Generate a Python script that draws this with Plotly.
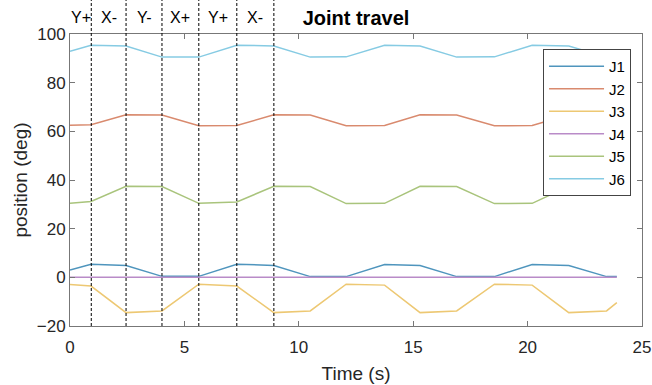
import plotly.graph_objects as go

# ---- data ----
time = [0, 0.92, 2.45, 4.02, 5.63, 7.29, 8.91, 10.5, 12.07, 13.75, 15.3, 16.9, 18.55, 20.2, 21.8, 23.45, 23.9]
J1 = [3.0, 5.4, 4.9, 0.4, 0.4, 5.4, 4.9, 0.3, 0.3, 5.3, 4.9, 0.3, 0.3, 5.3, 4.9, 0.3, 0.3]
J2 = [62.5, 62.7, 66.8, 66.7, 62.3, 62.4, 66.8, 66.7, 62.3, 62.4, 66.8, 66.7, 62.3, 62.4, 66.8, 66.7, 65.3]
J3 = [-2.9, -3.6, -14.5, -13.8, -2.8, -3.6, -14.5, -13.8, -2.8, -3.2, -14.5, -13.8, -2.8, -3.2, -14.5, -13.8, -10.4]
J4 = [0, 0, 0, 0, 0, 0, 0, 0, 0, 0, 0, 0, 0, 0, 0, 0, 0]
J5 = [30.4, 31.2, 37.4, 37.3, 30.4, 31.0, 37.4, 37.3, 30.3, 30.4, 37.4, 37.3, 30.3, 30.4, 37.4, 37.3, 35.1]
J6 = [92.9, 95.4, 95.1, 90.5, 90.5, 95.4, 95.1, 90.5, 90.6, 95.4, 95.1, 90.5, 90.6, 95.4, 95.1, 90.5, 90.5]

series_names = ["J1", "J2", "J3", "J4", "J5", "J6"]
series_vals = [J1, J2, J3, J4, J5, J6]
colors = ["#4f95bd", "#d98a6e", "#edc873", "#b98bc8", "#a9c47c", "#86cbe3"]

move_bounds = [0, 0.93, 2.45, 4.02, 5.63, 7.29, 8.91]
move_labels = ["Y+", "X-", "Y-", "X+", "Y+", "X-"]

FONT = "Liberation Sans, Arial, sans-serif"

fig = go.Figure()
for name, vals, c in zip(series_names, series_vals, colors):
    fig.add_trace(go.Scatter(x=time, y=vals, mode="lines", name=name,
                             line=dict(color=c, width=1.5)))

# dashed separators extending above the plot
for b in move_bounds[1:]:
    fig.add_shape(type="line", xref="x", yref="paper", x0=b, x1=b, y0=0, y1=1.12,
                  line=dict(color="black", width=1, dash="3px,2px"), layer="above")

for i, lab in enumerate(move_labels):
    mid = (move_bounds[i] + move_bounds[i + 1]) / 2
    fig.add_annotation(x=mid, y=1.055, xref="x", yref="paper", text=lab,
                       showarrow=False, font=dict(size=16, color="black", family=FONT),
                       xanchor="center", yanchor="middle")

axis_common = dict(showline=True, linecolor="#777777", linewidth=1, mirror="ticks",
                   ticks="inside", ticklen=5, tickcolor="#777777", showgrid=False,
                   zeroline=False, automargin=False,
                   tickfont=dict(size=17, color="#262626", family=FONT))

fig.update_xaxes(range=[0, 25], dtick=5, tick0=0, ticklabelstandoff=6,
                 title=dict(text="Time (s)", font=dict(size=19, color="#262626", family=FONT), standoff=10),
                 **axis_common)
fig.update_yaxes(range=[-20, 100], dtick=20, tick0=0,
                 title=dict(text="position (deg)", font=dict(size=19, color="#262626", family=FONT), standoff=4),
                 **axis_common)

fig.update_layout(
    width=652, height=385,
    margin=dict(l=70, r=10, t=34, b=59, autoexpand=False),
    paper_bgcolor="white", plot_bgcolor="white",
    font=dict(family=FONT),
    title=dict(text="<b>Joint travel</b>", x=0.546, xanchor="center",
               y=1 - 18 / 385, yanchor="middle", font=dict(size=20, color="black", family=FONT)),
    legend=dict(x=0.827, y=0.949, xanchor="left", yanchor="top", bgcolor="white",
                bordercolor="#444444", borderwidth=1, font=dict(size=15, color="black", family=FONT),
                itemwidth=55, tracegroupgap=0),
    showlegend=True,
)

fig.write_html("out.html", config={"displayModeBar": False},
               post_script="document.body.style.margin='0';document.body.style.overflow='hidden';")
